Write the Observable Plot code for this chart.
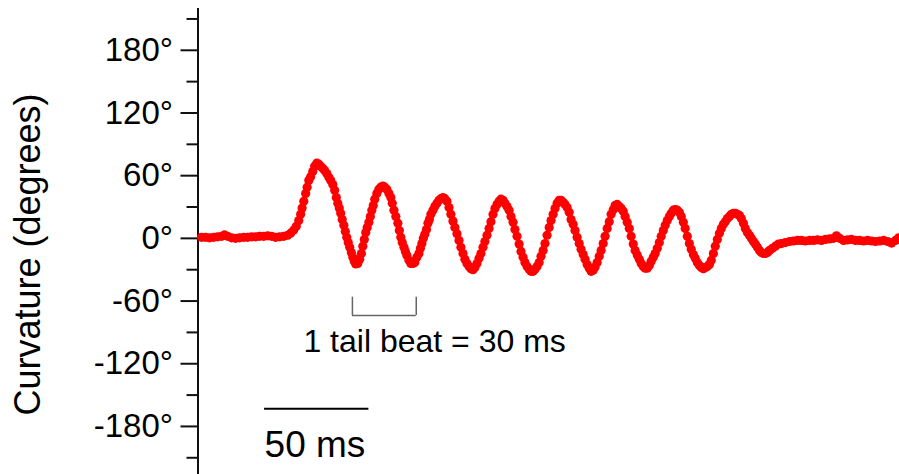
<!DOCTYPE html>
<html>
<head>
<meta charset="utf-8">
<script src="https://cdn.jsdelivr.net/npm/d3@7"></script>
<script src="https://cdn.jsdelivr.net/npm/@observablehq/plot@0.6"></script>
<style>
  html, body { margin: 0; padding: 0; background: #fff; }
  #chart { width: 899px; height: 474px; overflow: hidden; }
</style>
</head>
<body>
<div id="chart"></div>
<script>
// Time (ms) of each sample
const timeMs = [
  0, 1.9, 3.8, 5.8, 7.7, 9.6, 11.0, 12.5, 14.4, 16.3, 18.2, 20.2, 22.1, 24.0, 25.9, 27.8, 29.8, 31.7, 33.6, 35.5,
  37.4, 39.4, 41.3, 42.7, 44.2, 45.4, 46.6, 47.5, 48.2, 49.0, 49.9, 50.6, 51.4, 52.3, 53.3, 54.2, 55.2, 56.2, 57.1, 58.1,
  59.0, 60.0, 61.0, 61.9, 62.9, 63.8, 64.6, 65.3, 66.0, 66.7, 67.4, 68.2, 68.9, 69.6, 70.3, 71.0, 71.8, 72.5, 73.2, 73.9,
  74.9, 75.8, 76.6, 77.3, 78.0, 78.7, 79.4, 80.2, 80.9, 81.6, 82.3, 83.0, 84.0, 85.0, 85.9, 86.9, 87.8, 88.8, 89.8, 90.7,
  91.4, 92.2, 93.1, 94.1, 94.8, 95.5, 96.2, 97.0, 97.7, 98.4, 99.4, 100.3, 101.3, 102.2, 103.2, 104.2, 104.9, 105.6, 106.3, 107.0,
  107.8, 108.5, 109.2, 109.9, 110.9, 111.8, 112.8, 113.8, 114.7, 115.7, 116.6, 117.6, 118.6, 119.5, 120.5, 121.4, 122.4, 123.4, 124.3, 125.3,
  126.2, 127.2, 128.2, 129.1, 130.1, 131.0, 132.0, 133.0, 133.9, 134.9, 135.8, 136.8, 137.8, 138.7, 139.7, 140.6, 141.6, 142.6, 143.5, 144.5,
  145.4, 146.4, 147.4, 148.3, 149.3, 150.2, 151.2, 152.2, 153.1, 154.1, 155.0, 156.0, 157.0, 157.9, 158.9, 159.8, 160.8, 161.8, 162.7, 163.7,
  164.6, 165.6, 166.6, 167.5, 168.5, 169.4, 170.4, 171.4, 172.3, 173.3, 174.2, 175.2, 176.2, 177.1, 178.1, 179.0, 180.0, 181.0, 181.9, 182.9,
  183.8, 184.8, 185.8, 186.7, 187.7, 188.6, 189.6, 190.6, 191.5, 192.5, 193.4, 194.4, 195.4, 196.3, 197.3, 198.2, 199.2, 200.2, 201.1, 202.1,
  203.0, 204.0, 205.0, 205.9, 206.9, 207.8, 208.8, 209.8, 210.7, 211.7, 212.6, 213.6, 214.6, 215.5, 216.5, 217.4, 218.4, 219.4, 220.3, 221.3,
  222.2, 223.2, 224.2, 225.1, 226.1, 227.0, 228.0, 229.0, 229.9, 230.9, 231.8, 232.8, 233.8, 234.7, 235.7, 236.6, 237.6, 238.6, 239.5, 240.5,
  241.4, 242.4, 243.4, 244.3, 245.3, 246.2, 247.2, 248.2, 249.1, 250.1, 251.0, 252.0, 253.0, 253.9, 254.9, 255.8, 256.8, 257.8, 258.7, 259.7,
  260.6, 261.6, 262.6, 263.5, 264.5, 265.4, 266.4, 267.4, 268.3, 269.3, 270.2, 271.2, 272.2, 273.6, 275.0, 276.5, 277.9, 279.8, 281.8, 283.7,
  285.6, 287.5, 289.4, 291.4, 293.3, 295.2, 297.1, 299.0, 301.0, 302.9, 304.3, 305.8, 307.7, 309.6, 311.5, 313.4, 315.4, 317.3, 319.2, 321.1,
  323.0, 325.0, 326.9, 328.8, 330.7, 332.6, 334.1
];
// Body curvature (degrees) at each sample
const curvatureDeg = [
  1, 1, 0.5, 1, 1.5, 2, 3.3, 2, 0.5, 0, 0.5, 1, 1, 1.5, 1.5, 2, 2, 2.4, 2, 1,
  1.5, 2, 3, 5, 8, 11.5, 17, 23, 29, 35.5, 43, 49, 55.5, 59, 64, 69, 72, 71, 69, 67,
  65, 62, 58.5, 55.5, 51.5, 46, 39, 33.5, 29, 24, 18, 12.5, 6.5, 1, -4, -8.5, -13.5, -18, -22, -24.5,
  -24, -20, -14.5, -7.5, -1, 5.5, 10.5, 15.5, 21, 27, 31.5, 37.5, 43, 47, 49, 50, 49, 47, 43, 39,
  33.5, 27, 21, 14.5, 7.5, 1, -4, -8.5, -12.5, -16.5, -21, -24, -24, -23, -18, -14.5, -9.5, -5, 0, 4,
  8.5, 14.5, 18, 23, 27, 30.5, 33.5, 36.5, 38, 39, 38, 35.5, 29.5, 23, 16.5, 10.5, 4.5, -2, -8.5, -14.5,
  -20, -24, -27, -29, -30, -28, -24, -19, -14.5, -8.5, -3, 3, 9.5, 16, 23, 28.5, 32.5, 35.5, 37.5, 36.5,
  33.5, 30.5, 27, 21, 15.5, 8.5, 2, -5.5, -12.5, -18, -23, -27, -29.5, -31.5, -31.5, -29.5, -27, -23, -17, -11.5,
  -5, 3, 10.5, 17, 23, 28.5, 33.5, 36.5, 36.5, 34.5, 32.5, 29.5, 25, 18, 13.5, 7.5, 1, -5, -10.5, -15.5,
  -20, -25, -28.5, -31.5, -30.5, -27.5, -23, -17, -11.5, -5, 2, 9.5, 16, 23, 27.5, 31.5, 32.5, 30.5, 28.5, 26,
  21, 15.5, 9.5, 2, -5.5, -11.5, -16, -20, -24, -27, -28.5, -28.5, -26, -22, -18, -14.5, -9.5, -4, 2, 7.5,
  12.5, 17, 21, 24, 27, 27.5, 27, 25, 21, 15.5, 9.5, 2, -5, -10.5, -15.5, -19, -23, -26, -28, -29,
  -28, -27, -25, -21, -14.5, -7.5, -1, 5, 9.5, 13.5, 16, 19, 21, 23, 24, 24, 23, 22, 19, 14.5,
  9.5, 5.5, 3, 0, -3, -5.5, -8.5, -11.5, -13.5, -14.5, -14.5, -13.5, -11.5, -9.5, -7.5, -5.5, -5, -4, -3, -2.5,
  -2, -2, -2.5, -2, -2, -1.5, -2, -1, -0.5, 0, 2.5, 0, -2, -1.5, -1, -2, -2, -2.5, -2, -2.5,
  -3, -2.5, -2, -3, -4.5, -2, 0.5
];
const yMajorTicks = [-180, -120, -60, 0, 60, 120, 180];
const yMinorTicks = [-210, -150, -90, -30, 30, 90, 150, 210];
const yTitle = "Curvature (degrees)";
const tailBeatLabel = "1 tail beat = 30 ms";
const tailBeatMs = [72.3, 102.9];   // bracket ends (ms)
const tailBeatDeg = [-56.3, -73.8]; // bracket top, bottom (deg)
const tailBeatTextAt = [111.7, -108.9];
const scaleBarMs = [30.2, 80.2];    // 50 ms
const scaleBarDeg = -163.1;
const scaleBarLabel = "50 ms";
const scaleBarTextDeg = -209.4;

const xDomain = [-1.7, 334.5];
const yDomain = [-226, 220];

const series = timeMs.map((t, i) => ({t, c: curvatureDeg[i]}));
const fmt = d => `${d < 0 ? "-" : ""}${Math.abs(d)}°`;

const chart = Plot.plot({
  width: 899,
  height: 474,
  marginLeft: 197.5,
  marginRight: 0,
  marginTop: 8,
  marginBottom: 0,
  x: {domain: xDomain, axis: null},
  y: {domain: yDomain, axis: null},
  style: {fontFamily: "'Liberation Sans', Arial, sans-serif", background: "#fff", color: "#000"},
  marks: [
    Plot.ruleX([xDomain[0]], {y1: yDomain[0], y2: yDomain[1], stroke: "#111", strokeWidth: 2}),
    Plot.axisY(yMinorTicks, {anchor: "left", label: null, tickSize: 11, tickFormat: () => "", stroke: "#111", strokeWidth: 2}),
    Plot.axisY(yMajorTicks, {anchor: "left", label: null, tickSize: 17, tickPadding: 8, tickFormat: fmt, fontSize: 33, stroke: "#111", strokeWidth: 2, fill: "#000"}),
    Plot.text([yTitle], {frameAnchor: "left", textAnchor: "middle", lineAnchor: "middle", rotate: -90, dx: -170, dy: 13, fontSize: 36, fill: "#000"}),
    Plot.line(series, {x: "t", y: "c", stroke: "#ff0000", strokeWidth: 1.5}),
    Plot.dot(series, {x: "t", y: "c", r: 4.6, fill: "#ff0000", stroke: "none"}),
    // tail-beat bracket
    Plot.ruleX(tailBeatMs, {y1: tailBeatDeg[0], y2: tailBeatDeg[1], stroke: "#666", strokeWidth: 1.5}),
    Plot.ruleY([tailBeatDeg[1]], {x1: tailBeatMs[0], x2: tailBeatMs[1], stroke: "#666", strokeWidth: 1.5}),
    Plot.text([tailBeatLabel], {x: tailBeatTextAt[0], y: tailBeatTextAt[1], textAnchor: "middle", lineAnchor: "bottom", fontSize: 32, fill: "#000"}),
    // scale bar
    Plot.ruleY([scaleBarDeg], {x1: scaleBarMs[0], x2: scaleBarMs[1], stroke: "#000", strokeWidth: 2}),
    Plot.text([scaleBarLabel], {x: scaleBarMs[0], y: scaleBarTextDeg, textAnchor: "start", lineAnchor: "bottom", fontSize: 37, fill: "#000"})
  ]
});
document.getElementById("chart").appendChild(chart);
</script>
</body>
</html>
